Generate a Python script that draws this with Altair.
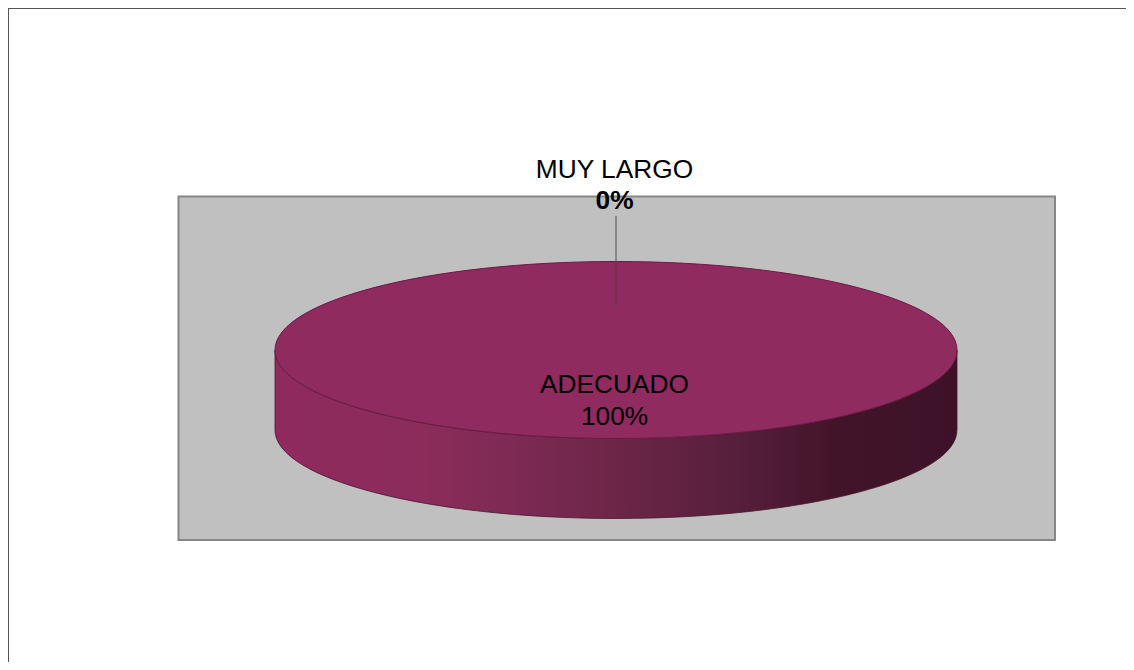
import altair as alt
import pandas as pd

categories = ["ADECUADO", "MUY LARGO"]
shares = [100, 0]
percent_labels = [f"{v}%" for v in shares]

df = pd.DataFrame({"category": categories, "share": shares, "pct": percent_labels})
base = alt.Chart(df)
slice_main = base.transform_filter(alt.datum.category == "ADECUADO")
slice_zero = base.transform_filter(alt.datum.category == "MUY LARGO")

# unit ellipse paths, scaled by the symbol size
RATIO = "0.2595"
DEPTH = "0.2346"
top_path = f"M -1 0 A 1 {RATIO} 0 1 1 1 0 A 1 {RATIO} 0 1 1 -1 0 Z"
side_path = (f"M -1 0 A 1 {RATIO} 0 0 0 1 0 L 1 {DEPTH} "
             f"A 1 {RATIO} 0 0 1 -1 {DEPTH} Z")
PIE_SIZE = 682 ** 2
CX, CY = 608, 342

side_gradient = alt.LinearGradient(
    gradient="linear", x1=0, x2=1, y1=0, y2=0,
    stops=[
        alt.GradientStop(offset=0.0, color="#8f2a5e"),
        alt.GradientStop(offset=0.22, color="#8b2c5b"),
        alt.GradientStop(offset=0.36, color="#7c2a54"),
        alt.GradientStop(offset=0.52, color="#6a2545"),
        alt.GradientStop(offset=0.68, color="#561f3b"),
        alt.GradientStop(offset=0.82, color="#421429"),
        alt.GradientStop(offset=1.0, color="#3d1228"),
    ],
)

top_line = slice_main.mark_rule(color="#555555", strokeWidth=2).encode(
    x=alt.value(0), x2=alt.value(1118), y=alt.value(0))
left_line = slice_main.mark_rule(color="#555555", strokeWidth=2).encode(
    x=alt.value(0), y=alt.value(0), y2=alt.value(654))

panel = slice_main.mark_rect(fill="#c0c0c0", stroke="#868686", strokeWidth=2).encode(
    x=alt.value(170.5), x2=alt.value(1047), y=alt.value(188.5), y2=alt.value(532))

side = slice_main.mark_point(
    shape=side_path, size=PIE_SIZE, filled=True, fill=side_gradient, opacity=1,
    stroke="#4a1530", strokeWidth=0.8,
).encode(x=alt.value(CX), y=alt.value(CY))

top = slice_main.mark_point(
    shape=top_path, size=PIE_SIZE, filled=True, fill="#8f2b5f", opacity=1,
    stroke="#6d1a45", strokeWidth=1,
).encode(x=alt.value(CX), y=alt.value(CY))

leader = slice_zero.mark_rule(color="#444444", strokeWidth=1.2, opacity=0.75).encode(
    x=alt.value(608), y=alt.value(208), y2=alt.value(298))

FONT = "Liberation Sans"
def label(src, field, y, bold=False):
    return src.mark_text(font=FONT, fontSize=26.3, color="#000000", align="center",
                         baseline="alphabetic",
                         fontWeight="bold" if bold else "normal").encode(
        x=alt.value(606.5), y=alt.value(y), text=alt.Text(f"{field}:N"))

chart = alt.layer(
    top_line, left_line, panel, side, top, leader,
    label(slice_zero, "category", 170),
    label(slice_zero, "pct", 201, bold=True),
    label(slice_main, "category", 385),
    label(slice_main, "pct", 417),
).properties(
    width=1118, height=654, padding=0, background="#ffffff",
    autosize=alt.AutoSizeParams(type="none"),
).configure_view(stroke=None)

chart.save("out.html", embed_options={"renderer": "svg", "actions": False})
